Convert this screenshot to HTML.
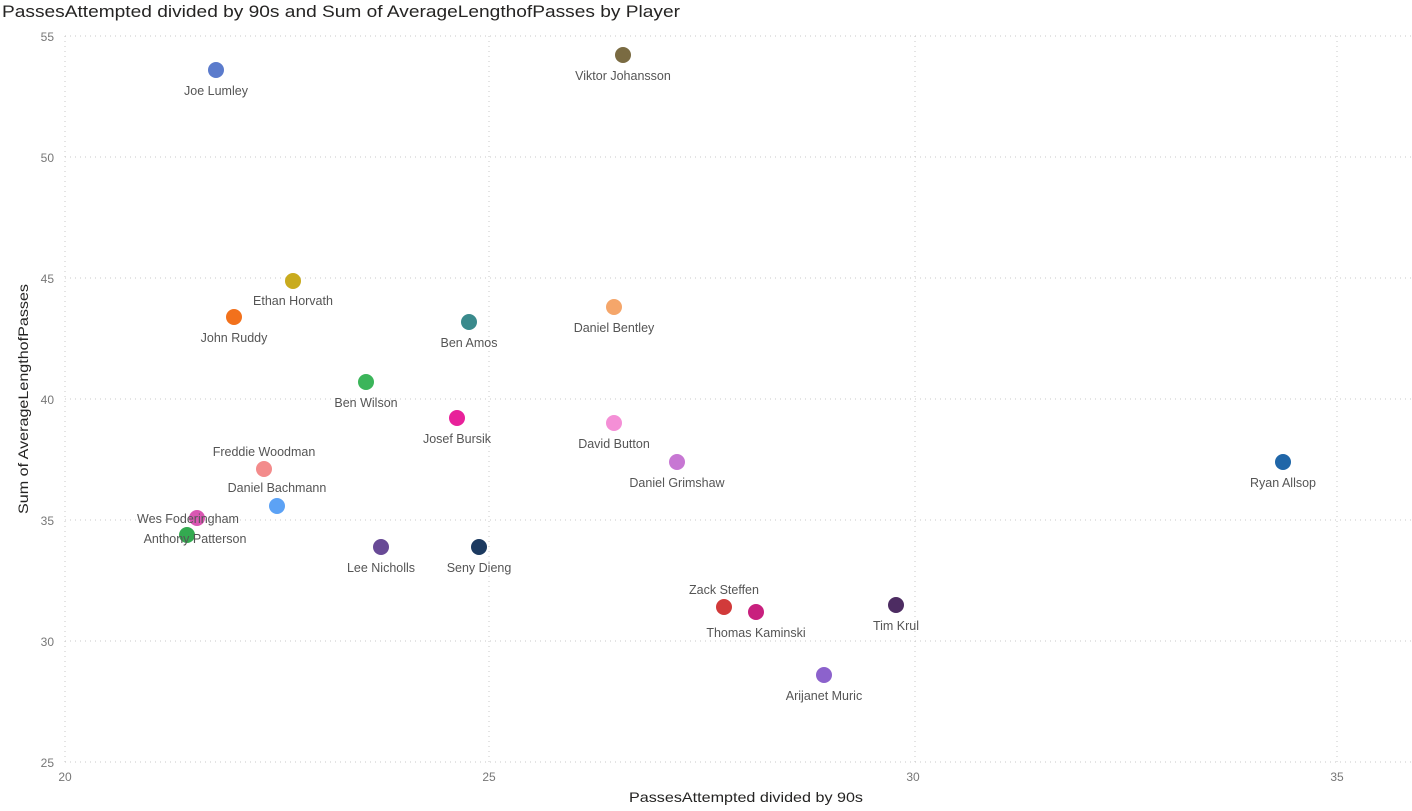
<!DOCTYPE html>
<html><head><meta charset="utf-8"><style>
html,body{margin:0;padding:0;background:#fff;}
svg{display:block;}
text{font-family:"Liberation Sans",sans-serif;}
</style></head><body>
<svg width="1412" height="811" viewBox="0 0 1412 811" xmlns="http://www.w3.org/2000/svg">
<text x="2" y="17" font-size="17" fill="#252423" textLength="678" lengthAdjust="spacingAndGlyphs">PassesAttempted divided by 90s and Sum of AverageLengthofPasses by Player</text>
<g stroke="#c8c8c8" stroke-width="1" stroke-dasharray="1,4">
<line x1="65" y1="36" x2="1412" y2="36"/>
<line x1="65" y1="157" x2="1412" y2="157"/>
<line x1="65" y1="278" x2="1412" y2="278"/>
<line x1="65" y1="399" x2="1412" y2="399"/>
<line x1="65" y1="520" x2="1412" y2="520"/>
<line x1="65" y1="641" x2="1412" y2="641"/>
<line x1="65" y1="762" x2="1412" y2="762"/>
<line x1="65" y1="36" x2="65" y2="762"/>
<line x1="489" y1="36" x2="489" y2="762"/>
<line x1="915" y1="36" x2="915" y2="762"/>
<line x1="1337" y1="36" x2="1337" y2="762"/>
</g>
<g font-size="12" fill="#777" text-anchor="end">
<text x="54" y="41">55</text><text x="54" y="162">50</text><text x="54" y="283">45</text>
<text x="54" y="404">40</text><text x="54" y="525">35</text><text x="54" y="646">30</text><text x="54" y="767">25</text>
</g>
<g font-size="12" fill="#777" text-anchor="middle">
<text x="65" y="781">20</text><text x="489" y="781">25</text><text x="913" y="781">30</text><text x="1337" y="781">35</text>
</g>
<text x="746" y="802" font-size="14" fill="#252423" text-anchor="middle" textLength="234" lengthAdjust="spacingAndGlyphs">PassesAttempted divided by 90s</text>
<text transform="translate(28,399) rotate(-90)" font-size="14" fill="#252423" text-anchor="middle" textLength="230" lengthAdjust="spacingAndGlyphs">Sum of AverageLengthofPasses</text>
<g>
<circle cx="216" cy="70" r="8" fill="#5b7bcc"/>
<circle cx="623" cy="55" r="8" fill="#7a6b42"/>
<circle cx="293" cy="281" r="8" fill="#c9ab1e"/>
<circle cx="234" cy="317" r="8" fill="#f2711c"/>
<circle cx="469" cy="322" r="8" fill="#3a8a8c"/>
<circle cx="614" cy="307" r="8" fill="#f5a66a"/>
<circle cx="366" cy="382" r="8" fill="#3bb55a"/>
<circle cx="457" cy="418" r="8" fill="#e8219a"/>
<circle cx="614" cy="423" r="8" fill="#f48fd6"/>
<circle cx="677" cy="462" r="8" fill="#c777d3"/>
<circle cx="1283" cy="462" r="8" fill="#2066a8"/>
<circle cx="264" cy="469" r="8" fill="#f38b8b"/>
<circle cx="277" cy="506" r="8" fill="#5ca2f5"/>
<circle cx="187" cy="535" r="8" fill="#33aa50"/>
<circle cx="197" cy="518" r="8" fill="#d957b2"/>
<circle cx="381" cy="547" r="8" fill="#684a96"/>
<circle cx="479" cy="547" r="8" fill="#1c3a60"/>
<circle cx="724" cy="607" r="8" fill="#d13a3a"/>
<circle cx="756" cy="612" r="8" fill="#c8207e"/>
<circle cx="896" cy="605" r="8" fill="#4d2c62"/>
<circle cx="824" cy="675" r="8" fill="#8c62cc"/>
</g>
<g font-size="12.5" fill="#555" text-anchor="middle">
<text x="216" y="95">Joe Lumley</text>
<text x="623" y="80">Viktor Johansson</text>
<text x="293" y="305">Ethan Horvath</text>
<text x="234" y="342">John Ruddy</text>
<text x="469" y="347">Ben Amos</text>
<text x="614" y="332">Daniel Bentley</text>
<text x="366" y="407">Ben Wilson</text>
<text x="457" y="443">Josef Bursik</text>
<text x="614" y="448">David Button</text>
<text x="677" y="487">Daniel Grimshaw</text>
<text x="1283" y="487">Ryan Allsop</text>
<text x="264" y="456">Freddie Woodman</text>
<text x="277" y="492">Daniel Bachmann</text>
<text x="188" y="523">Wes Foderingham</text>
<text x="195" y="543">Anthony Patterson</text>
<text x="381" y="572">Lee Nicholls</text>
<text x="479" y="572">Seny Dieng</text>
<text x="724" y="594">Zack Steffen</text>
<text x="756" y="637">Thomas Kaminski</text>
<text x="896" y="630">Tim Krul</text>
<text x="824" y="700">Arijanet Muric</text>
</g>
</svg>
</body></html>
